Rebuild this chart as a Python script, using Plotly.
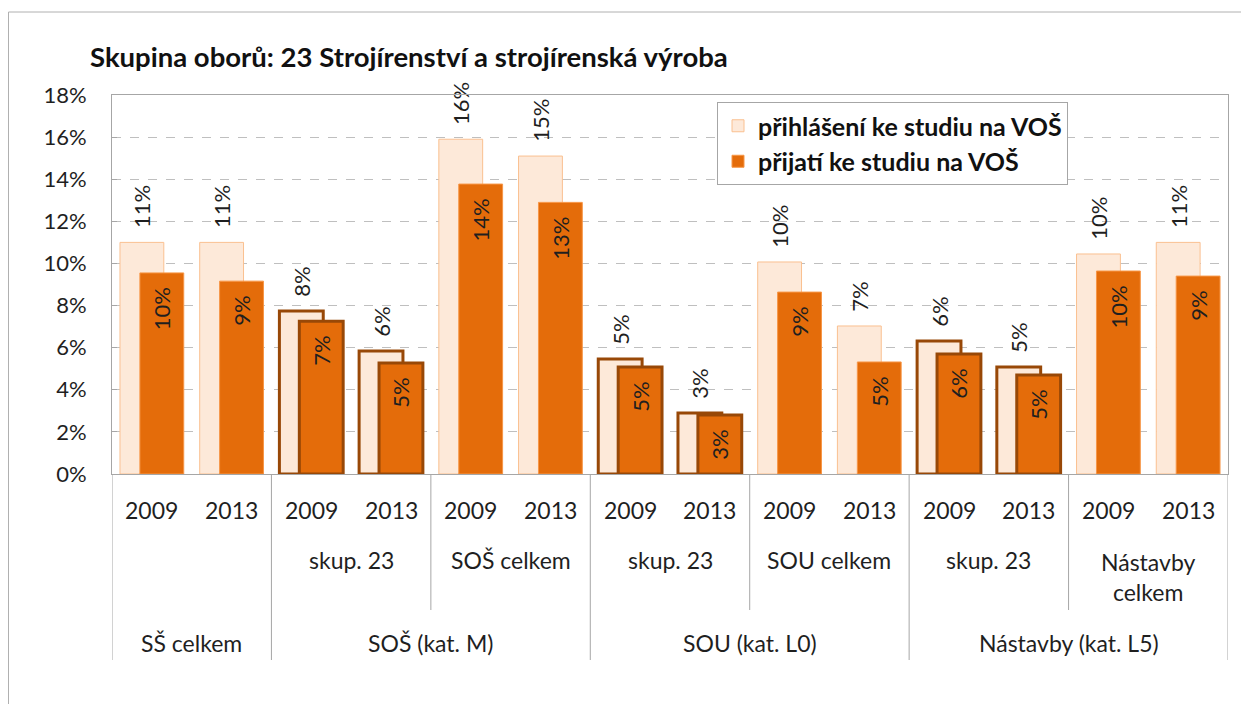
import plotly.graph_objects as go

# ---- data ----
years = ["2009", "2013"] * 7
sub_labels = ["", "skup. 23", "SOŠ celkem", "skup. 23", "SOU celkem", "skup. 23", "Nástavby<br>celkem"]
main_labels = ["SŠ celkem", "SOŠ (kat. M)", "SOU (kat. L0)", "Nástavby (kat. L5)"]
main_spans = [(0, 1), (2, 5), (6, 9), (10, 13)]
prihlaseni = [11.0, 11.0, 7.74, 5.84, 15.9, 15.1, 5.46, 2.9, 10.07, 7.03, 6.32, 5.08, 10.45, 11.0]
prijati = [9.55, 9.16, 7.26, 5.27, 13.77, 12.9, 5.08, 2.8, 8.64, 5.32, 5.7, 4.7, 9.64, 9.4]
is_group23 = [False, False, True, True, False, False, True, True, False, False, True, True, False, False]

FONT = "Lato"
TXT = "#1f1f1f"
LIGHT = "#FDE9D9"
DARK = "#E46C0A"
BROWN = "#984807"
GRID = "#A6A6A6"
NB = "\u00a0"

xs = list(range(len(years)))

light_line_col = [BROWN if g else "#FAC090" for g in is_group23]
light_line_w = [3 if g else 1 for g in is_group23]
dark_line_col = [BROWN if g else "#F79646" for g in is_group23]
dark_line_w = [3 if g else 1 for g in is_group23]

fig = go.Figure()
fig.add_trace(go.Bar(
    x=xs, y=prihlaseni, name="přihlášení ke studiu na VOŠ",
    width=0.55, offset=-0.4,
    marker=dict(color=LIGHT, line=dict(color=light_line_col, width=light_line_w)),
    texttemplate=NB * 2 + "%{y:.0f}%", textposition="outside", textangle=-90, constraintext="none",
    textfont=dict(family=FONT, size=22, color=TXT), cliponaxis=False,
))
fig.add_trace(go.Bar(
    x=xs, y=prijati, name="přijatí ke studiu na VOŠ",
    width=0.55, offset=-0.15,
    marker=dict(color=DARK, line=dict(color=dark_line_col, width=dark_line_w)),
    texttemplate="%{y:.0f}%" + NB * 2, textposition="inside", insidetextanchor="end", textangle=-90,
    constraintext="none",
    textfont=dict(family=FONT, size=22, color=TXT), cliponaxis=False,
))

# page is offset by the 8px body margin
OFF = 8
W, H = 1241, 696
L, R, T, B = 104, 21, 87, 230
ph = H - T - B
pw = W - L - R


def py(page_y):
    return (H - B - (page_y - OFF)) / ph


def px(page_x):
    return (page_x - OFF - L) / pw


shapes = []
for xv in [-0.5, 1.5, 5.5, 9.5, 13.5]:
    shapes.append(dict(type="line", xref="x", yref="paper", x0=xv, x1=xv, y0=0, y1=py(660),
                       line=dict(color=GRID, width=1)))
for xv in [3.5, 7.5, 11.5]:
    shapes.append(dict(type="line", xref="x", yref="paper", x0=xv, x1=xv, y0=0, y1=py(610),
                       line=dict(color=GRID, width=1)))
# outer chart border
shapes.append(dict(type="rect", xref="paper", yref="paper", x0=px(8.5), x1=px(1244), y0=py(760), y1=py(12),
                   line=dict(color="#B0B0B0", width=1), layer="below"))

annotations = []
for i, yr in enumerate(years):
    annotations.append(dict(x=i, y=py(510), xref="x", yref="paper", text=yr, showarrow=False,
                            yanchor="middle", font=dict(family=FONT, size=23, color=TXT)))
for k, lab in enumerate(sub_labels):
    if lab:
        yy = py(577) if "<br>" in lab else py(560)
        annotations.append(dict(x=2 * k + 0.5, y=yy, xref="x", yref="paper", text=lab, showarrow=False,
                                yanchor="middle", font=dict(family=FONT, size=23, color=TXT)))
for lab, (a, b) in zip(main_labels, main_spans):
    annotations.append(dict(x=(a + b) / 2, y=py(643), xref="x", yref="paper", text=lab, showarrow=False,
                            yanchor="middle", font=dict(family=FONT, size=23, color=TXT)))

fig.update_layout(
    width=W, height=H,
    margin=dict(l=L, r=R, t=T, b=B),
    paper_bgcolor="white", plot_bgcolor="white",
    barmode="overlay",
    title=dict(text="<b>Skupina oborů: 23 Strojírenství a strojírenská výroba</b>",
               x=(90 - OFF) / W, xref="container", xanchor="left",
               y=1 - (57 - OFF) / H, yref="container", yanchor="middle",
               font=dict(family=FONT, size=27.5, color="#111111")),
    xaxis=dict(range=[-0.5, 13.5], showticklabels=False, showgrid=False, zeroline=False,
               showline=True, linecolor=GRID, mirror=True, ticks=""),
    yaxis=dict(range=[0, 18], dtick=2, ticksuffix="%", showgrid=True, gridcolor="#BFBFBF", griddash="dash",
               zeroline=False, showline=True, linecolor=GRID, mirror=True,
               ticks="inside", ticklen=5, tickcolor=GRID, ticklabelstandoff=20,
               tickfont=dict(family=FONT, size=22, color=TXT)),
    legend=dict(x=px(717), y=py(102), xanchor="left", yanchor="top", bgcolor="white",
                bordercolor=GRID, borderwidth=1,
                font=dict(family=FONT, size=25, color="#111111", weight="bold")),
    shapes=shapes, annotations=annotations, showlegend=True,
)

fig.write_html("out.html")
